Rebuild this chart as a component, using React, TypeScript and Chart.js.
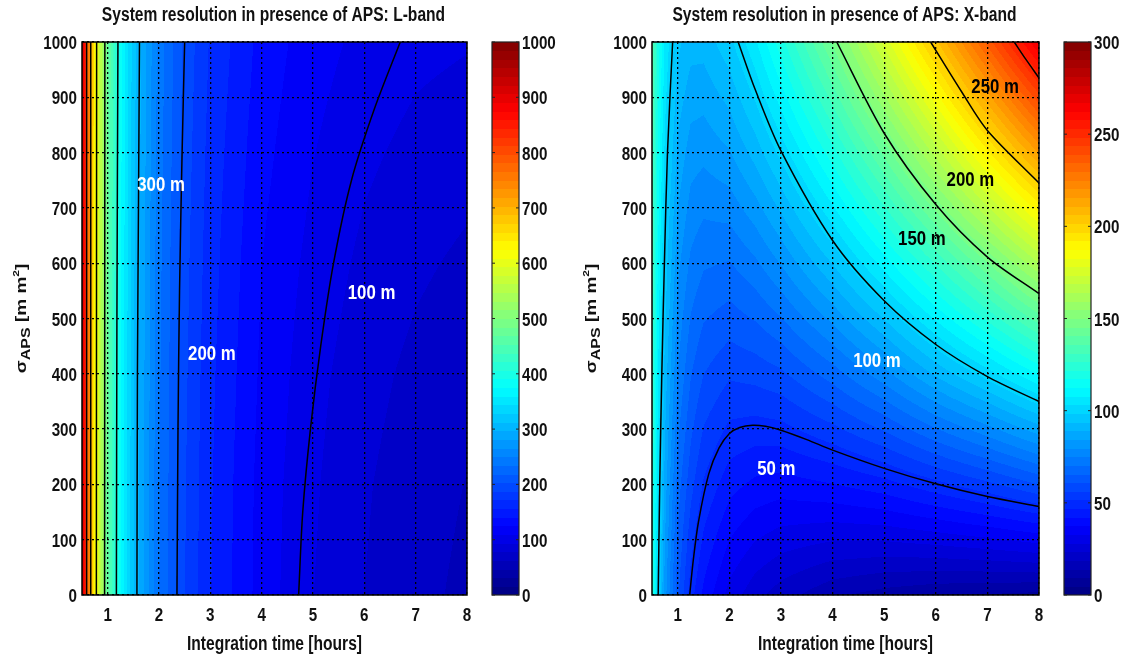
import React, { useEffect, useRef } from "react";
import { Chart, registerables } from "chart.js";

Chart.register(...registerables);

// ---------------- axes / ticks ----------------
const hourTicks = [1, 2, 3, 4, 5, 6, 7, 8];
const sigmaTicks = [0, 100, 200, 300, 400, 500, 600, 700, 800, 900, 1000];
const lbandBarTicks = [0, 100, 200, 300, 400, 500, 600, 700, 800, 900, 1000];
const xbandBarTicks = [0, 50, 100, 150, 200, 250, 300];

const gridHours = [0.5, 0.6, 0.75, 1, 1.25, 1.5, 2, 2.5, 3, 4, 5, 6, 7, 8];
const gridSigma = [0, 200, 400, 600, 800, 1000];

// L-band resolution [m], one row per sigma value
const lband_s0 = [940, 783, 627, 470, 376, 313, 235, 188, 157, 118, 94, 78, 67, 59];
const lband_s200 = [940, 783, 627, 470, 376, 314, 236, 189, 158, 119, 96, 80, 69, 62];
const lband_s400 = [941, 784, 628, 471, 377, 315, 237, 191, 160, 122, 99, 84, 74, 67];
const lband_s600 = [941, 784, 628, 472, 378, 316, 239, 193, 163, 125, 104, 90, 81, 75];
const lband_s800 = [942, 785, 629, 473, 380, 318, 241, 196, 166, 130, 110, 97, 89, 84];
const lband_s1000 = [942, 786, 630, 474, 382, 320, 244, 199, 170, 135, 116, 105, 98, 95];

// X-band resolution [m], one row per sigma value
const xband_s0 = [123, 103, 82, 62, 49, 41, 31, 25, 21, 15, 12, 10, 9, 8];
const xband_s200 = [126, 107, 87, 68, 58, 51, 44, 41, 40, 42, 45, 50, 55, 61];
const xband_s400 = [130, 110, 92, 75, 66, 61, 57, 58, 60, 68, 78, 90, 101, 113];
const xband_s600 = [133, 114, 97, 81, 74, 71, 70, 74, 80, 94, 110, 127, 145, 164];
const xband_s800 = [136, 118, 102, 88, 82, 81, 84, 91, 100, 120, 142, 166, 191, 216];
const xband_s1000 = [140, 122, 107, 95, 91, 91, 97, 107, 120, 146, 175, 205, 236, 268];

// ---------------- contour lines [hours, sigma] ----------------
const lband_c800 = [[0.59, 0], [0.59, 1000]];
const lband_c700 = [[0.67, 0], [0.67, 1000]];
const lband_c600 = [[0.78, 0], [0.785, 1000]];
const lband_c500 = [[0.94, 0], [0.945, 1000]];
const lband_c400 = [[1.17, 0], [1.18, 500], [1.2, 1000]];
const lband_c300 = [[1.57, 0], [1.58, 400], [1.6, 700], [1.62, 1000]];
const lband_c200 = [[2.35, 0], [2.37, 300], [2.4, 550], [2.45, 800], [2.5, 1000]];
const lband_c100 = [[4.72, 0], [4.8, 150], [4.95, 300], [5.15, 450], [5.4, 600], [5.75, 750], [6.2, 880], [6.7, 1000]];

const xband_c100a = [[0.62, 0], [0.65, 200], [0.69, 400], [0.74, 600], [0.8, 800], [0.9, 1000]];
const xband_c50 = [[1.23, 0], [1.3, 63], [1.4, 132], [1.6, 219], [1.8, 266], [2, 292], [2.2, 303], [2.45, 307], [2.7, 305], [3, 298], [3.5, 281], [4, 262], [5, 229], [6, 201], [7, 178], [8, 160]];
const xband_c100b = [[2.17, 1000], [2.5, 914], [3, 803], [4, 641], [5, 532], [6, 453], [7, 395], [8, 350]];
const xband_c150 = [[4.08, 1000], [5, 835], [6, 706], [7, 611], [8, 545]];
const xband_c200 = [[5.9, 1000], [6.5, 910], [7, 840], [8, 745]];
const xband_c250 = [[7.52, 1000], [7.75, 968], [8, 935]];

// ---------------- contour labels ----------------
const lbandLabelText = ["300 m", "200 m", "100 m"];
const lbandLabelHours = [2.04, 3.03, 6.14];
const lbandLabelSigma = [745, 439, 548];

const xbandLabelText = ["250 m", "200 m", "150 m", "100 m", "50 m"];
const xbandLabelHours = [7.15, 6.67, 5.73, 4.86, 2.91];
const xbandLabelSigma = [922, 754, 647, 425, 231];

// ---------------- styling ----------------
const FONT = '"Liberation Sans", Arial, "DejaVu Sans", sans-serif';
const SQUEEZE = 0.8;
const TEXT = "#111";
const NLEV = 64;

function jet(v: number): [number, number, number] {
  const c = (t: number) => Math.max(0, Math.min(1, t));
  return [
    Math.round(c(1.5 - Math.abs(4 * v - 3)) * 255),
    Math.round(c(1.5 - Math.abs(4 * v - 2)) * 255),
    Math.round(c(1.5 - Math.abs(4 * v - 1)) * 255),
  ];
}
function levelColor(val: number, cmax: number): [number, number, number] {
  let i = Math.floor((val / cmax) * NLEV);
  if (i < 0) i = 0;
  if (i > NLEV - 1) i = NLEV - 1;
  return jet((i + 0.5) / NLEV);
}

function sampleGrid(rows: number[][], x: number, y: number): number {
  const xs = gridHours;
  const ys = gridSigma;
  let i = 0;
  while (i < xs.length - 2 && x > xs[i + 1]) i++;
  let j = 0;
  while (j < ys.length - 2 && y > ys[j + 1]) j++;
  const cl = (t: number) => Math.max(0, Math.min(1, t));
  const tx = cl((x - xs[i]) / (xs[i + 1] - xs[i]));
  const ty = cl((y - ys[j]) / (ys[j + 1] - ys[j]));
  const a = rows[j][i];
  const b = rows[j][i + 1];
  const c = rows[j + 1][i];
  const d = rows[j + 1][i + 1];
  return (a * (1 - tx) + b * tx) * (1 - ty) + (c * (1 - tx) + d * tx) * ty;
}

function drawText(
  ctx: CanvasRenderingContext2D,
  s: string,
  x: number,
  y: number,
  size: number,
  align: CanvasTextAlign,
  color: string
) {
  ctx.save();
  ctx.translate(x, y);
  ctx.scale(SQUEEZE, 1);
  ctx.font = `bold ${size}px ${FONT}`;
  ctx.textAlign = align;
  ctx.textBaseline = "alphabetic";
  ctx.fillStyle = color;
  ctx.fillText(s, 0, 0);
  ctx.restore();
}

type Label = { text: string; x: number; y: number; color: string };
type PanelCfg = {
  title: string;
  rows: number[][];
  cmax: number;
  barTicks: number[];
  contours: number[][][];
  labels: Label[];
  canvasLeft: number;
  canvasWidth: number;
  plotLeft: number;
  plotRight: number;
};

const PANELS: PanelCfg[] = [
  {
    title: "System resolution in presence of APS: L-band",
    rows: [lband_s0, lband_s200, lband_s400, lband_s600, lband_s800, lband_s1000],
    cmax: 1000,
    barTicks: lbandBarTicks,
    contours: [lband_c800, lband_c700, lband_c600, lband_c500, lband_c400, lband_c300, lband_c200, lband_c100],
    labels: lbandLabelText.map((t, i) => ({ text: t, x: lbandLabelHours[i], y: lbandLabelSigma[i], color: "#fff" })),
    canvasLeft: 0,
    canvasWidth: 567,
    plotLeft: 82,
    plotRight: 467,
  },
  {
    title: "System resolution in presence of APS: X-band",
    rows: [xband_s0, xband_s200, xband_s400, xband_s600, xband_s800, xband_s1000],
    cmax: 300,
    barTicks: xbandBarTicks,
    contours: [xband_c100a, xband_c50, xband_c100b, xband_c150, xband_c200, xband_c250],
    labels: xbandLabelText.map((t, i) => ({
      text: t,
      x: xbandLabelHours[i],
      y: xbandLabelSigma[i],
      color: i < 3 ? "#000" : "#fff",
    })),
    canvasLeft: 567,
    canvasWidth: 567,
    plotLeft: 85,
    plotRight: 472,
  },
];

const BAR_GAP = 25;
const BAR_W = 27;

function makePlugins(p: PanelCfg) {
  const heat = {
    id: "heatfill",
    beforeDraw(chart: any) {
      const { ctx, chartArea: a, scales } = chart;
      const xs = scales.x;
      const ys = scales.y;
      const w = Math.round(a.right - a.left);
      const h = Math.round(a.bottom - a.top);
      const off = document.createElement("canvas");
      off.width = w;
      off.height = h;
      const octx = off.getContext("2d")!;
      const img = octx.createImageData(w, h);
      const xv: number[] = [];
      for (let px = 0; px < w; px++) xv.push(xs.getValueForPixel(a.left + px + 0.5));
      for (let py = 0; py < h; py++) {
        const yv = ys.getValueForPixel(a.top + py + 0.5);
        for (let px = 0; px < w; px++) {
          const v = sampleGrid(p.rows, xv[px], yv);
          const c = levelColor(v, p.cmax);
          const k = (py * w + px) * 4;
          img.data[k] = c[0];
          img.data[k + 1] = c[1];
          img.data[k + 2] = c[2];
          img.data[k + 3] = 255;
        }
      }
      octx.putImageData(img, 0, 0);
      ctx.drawImage(off, a.left, a.top);

      // colour bar
      const cb = scales.y2;
      const bx = a.right + BAR_GAP;
      for (let i = 0; i < NLEV; i++) {
        const v0 = (i * p.cmax) / NLEV;
        const v1 = ((i + 1) * p.cmax) / NLEV;
        const y0 = cb.getPixelForValue(v0);
        const y1 = cb.getPixelForValue(v1);
        const c = jet((i + 0.5) / NLEV);
        ctx.fillStyle = `rgb(${c[0]},${c[1]},${c[2]})`;
        ctx.fillRect(bx, Math.floor(y1), BAR_W, Math.ceil(y0) - Math.floor(y1));
      }
    },
  };

  const overlay = {
    id: "overlay",
    afterDraw(chart: any) {
      const { ctx, chartArea: a, scales } = chart;
      const xs = scales.x;
      const ys = scales.y;
      const cb = scales.y2;
      ctx.save();
      // plot box
      ctx.strokeStyle = "#000";
      ctx.lineWidth = 1.5;
      ctx.strokeRect(a.left, a.top, a.right - a.left, a.bottom - a.top);
      // colour bar frame + ticks
      const bx = a.right + BAR_GAP;
      ctx.lineWidth = 1.2;
      ctx.strokeStyle = "#222";
      ctx.strokeRect(bx, a.top, BAR_W, a.bottom - a.top);
      ctx.lineWidth = 1;
      for (const t of p.barTicks) {
        const yy = cb.getPixelForValue(t);
        ctx.beginPath();
        ctx.moveTo(bx, yy);
        ctx.lineTo(bx + 3, yy);
        ctx.moveTo(bx + BAR_W, yy);
        ctx.lineTo(bx + BAR_W - 3, yy);
        ctx.stroke();
        drawText(ctx, String(t), bx + BAR_W + 3, yy + 7, 19, "left", TEXT);
      }
      // tick labels
      for (const t of sigmaTicks) {
        const yy = ys.getPixelForValue(t);
        drawText(ctx, String(t), a.left - 5, yy + 7, 19, "right", TEXT);
      }
      for (const t of hourTicks) {
        const xx = xs.getPixelForValue(t);
        drawText(ctx, String(t), xx, a.bottom + 26, 19, "center", TEXT);
      }
      const cx = (a.left + a.right) / 2;
      // title
      drawText(ctx, p.title, cx - 1, 21, 19.5, "center", TEXT);
      // x-axis title
      drawText(ctx, "Integration time [hours]", cx, 650, 19.5, "center", TEXT);
      // contour labels
      for (const l of p.labels) {
        drawText(ctx, l.text, xs.getPixelForValue(l.x), ys.getPixelForValue(l.y) + 7.5, 21, "center", l.color);
      }
      // y-axis title (rotated)
      ctx.save();
      ctx.translate(a.left - 62, (a.top + a.bottom) / 2);
      ctx.rotate(-Math.PI / 2);
      ctx.scale(1, SQUEEZE);
      ctx.fillStyle = TEXT;
      ctx.textBaseline = "alphabetic";
      ctx.textAlign = "left";
      const segs: [string, number, number][] = [
        ["σ", 19, 0],
        ["APS", 16, 5],
        [" [m m", 19, 0],
        ["2", 12, -8],
        ["]", 19, 0],
      ];
      let total = 0;
      for (const [s, sz] of segs) {
        ctx.font = `bold ${sz}px ${FONT}`;
        total += ctx.measureText(s).width;
      }
      let xx = -total / 2;
      for (const [s, sz, dy] of segs) {
        ctx.font = `bold ${sz}px ${FONT}`;
        ctx.fillText(s, xx, 7 + dy);
        xx += ctx.measureText(s).width;
      }
      ctx.restore();
      ctx.restore();
    },
  };
  return [heat, overlay];
}

function Panel({ p }: { p: PanelCfg }) {
  const ref = useRef<HTMLCanvasElement>(null);
  useEffect(() => {
    const canvas = ref.current!;
    const gridCommon = { color: "#000", lineWidth: 1.3, drawTicks: false, borderDash: [2, 3] };
    const chart = new Chart(canvas, {
      type: "scatter",
      data: {
        datasets: p.contours.map((c) => ({
          data: c.map(([x, y]) => ({ x, y })),
          showLine: true,
          borderColor: "#000",
          borderWidth: 1.5,
          pointRadius: 0,
          tension: 0.3,
          fill: false,
        })),
      },
      options: {
        responsive: false,
        animation: false,
        devicePixelRatio: 1,
        events: [],
        layout: { padding: { left: 0, right: 0, top: 42, bottom: 0 } },
        plugins: {
          legend: { display: false },
          tooltip: { enabled: false },
          title: { display: false },
        },
        scales: {
          x: {
            type: "linear",
            min: 0.5,
            max: 8,
            afterBuildTicks: (s: any) => {
              s.ticks = hourTicks.map((v) => ({ value: v }));
            },
            afterFit: (s: any) => {
              s.height = 69;
            },
            ticks: { display: false },
            grid: gridCommon,
            border: { display: false, dash: [2, 3] },
          },
          y: {
            type: "linear",
            position: "left",
            min: 0,
            max: 1000,
            afterBuildTicks: (s: any) => {
              s.ticks = sigmaTicks.map((v) => ({ value: v }));
            },
            afterFit: (s: any) => {
              s.width = p.plotLeft;
            },
            ticks: { display: false },
            grid: gridCommon,
            border: { display: false, dash: [2, 3] },
          },
          y2: {
            type: "linear",
            position: "right",
            min: 0,
            max: p.cmax,
            afterBuildTicks: (s: any) => {
              s.ticks = p.barTicks.map((v) => ({ value: v }));
            },
            afterFit: (s: any) => {
              s.width = p.canvasWidth - p.plotRight;
            },
            ticks: { display: false },
            grid: { display: false, drawTicks: false },
            border: { display: false },
          },
        },
      } as any,
      plugins: makePlugins(p) as any,
    });
    return () => chart.destroy();
  }, [p]);
  return (
    <canvas
      ref={ref}
      width={p.canvasWidth}
      height={664}
      style={{ position: "absolute", left: p.canvasLeft, top: 0, width: p.canvasWidth, height: 664 }}
    />
  );
}

export default function App() {
  return (
    <div
      style={{
        position: "absolute",
        left: 0,
        top: 0,
        width: 1134,
        height: 664,
        background: "#fff",
        overflow: "hidden",
      }}
    >
      {PANELS.map((p, i) => (
        <Panel key={i} p={p} />
      ))}
    </div>
  );
}
